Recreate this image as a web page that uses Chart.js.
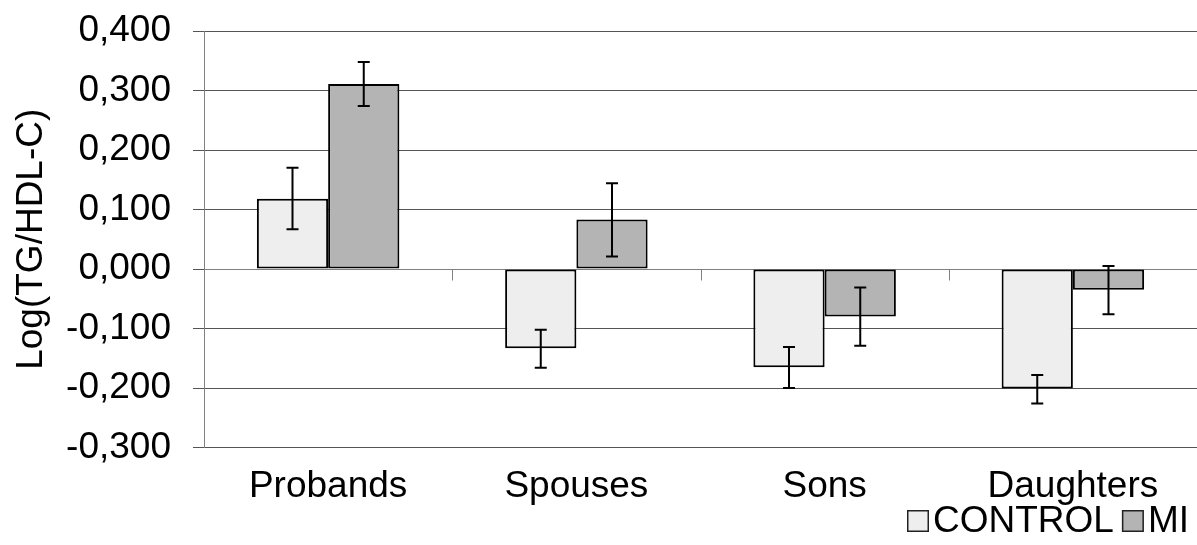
<!DOCTYPE html>
<html>
<head>
<meta charset="utf-8">
<script src="https://cdn.jsdelivr.net/npm/chart.js@4.4.0/dist/chart.umd.min.js"></script>
<style>
  html, body { margin: 0; padding: 0; background: #fff; }
  #wrap { width: 1197px; height: 545px; }
</style>
</head>
<body>
<div id="wrap"><canvas id="grafico"></canvas></div>
<script>
// Dados
const categorias = ["Probands", "Spouses", "Sons", "Daughters"];
const controle = [0.118, -0.133, -0.165, -0.201];
const controleMin = [0.067, -0.166, -0.200, -0.226];
const controleMax = [0.170, -0.102, -0.131, -0.178];
const mi = [0.311, 0.083, -0.080, -0.035];
const miMin = [0.274, 0.021, -0.129, -0.076];
const miMax = [0.348, 0.144, -0.031, 0.005];
const yTicks = [-0.3, -0.2, -0.1, 0, 0.1, 0.2, 0.3, 0.4];

const fonte = "'Liberation Sans', Arial, sans-serif";
Chart.defaults.font.family = fonte;
Chart.defaults.color = "#000";

// barras de erro desenhadas pela escala y
const errorBars = {
  id: "errorBars",
  afterDatasetsDraw(chart) {
    const ctx = chart.ctx;
    const y = chart.scales.y;
    chart.data.datasets.forEach((ds, di) => {
      const meta = chart.getDatasetMeta(di);
      meta.data.forEach((bar, i) => {
        const top = y.getPixelForValue(ds.errMax[i]);
        const bot = y.getPixelForValue(ds.errMin[i]);
        ctx.save();
        ctx.strokeStyle = "#000";
        ctx.lineWidth = 2;
        ctx.beginPath();
        ctx.moveTo(bar.x, top); ctx.lineTo(bar.x, bot);
        ctx.moveTo(bar.x - 6, top); ctx.lineTo(bar.x + 6, top);
        ctx.moveTo(bar.x - 6, bot); ctx.lineTo(bar.x + 6, bot);
        ctx.stroke();
        ctx.restore();
      });
    });
  }
};

// eixo x no zero com marcas entre as categorias
const eixoZero = {
  id: "eixoZero",
  beforeDatasetsDraw(chart) {
    const ctx = chart.ctx;
    const x = chart.scales.x;
    const y0 = Math.round(chart.scales.y.getPixelForValue(0)) + 0.5;
    const passo = x.width / categorias.length;
    ctx.save();
    ctx.strokeStyle = "#808080";
    ctx.lineWidth = 1;
    ctx.beginPath();
    ctx.moveTo(x.left, y0); ctx.lineTo(x.right, y0);
    for (let i = 1; i < categorias.length; i++) {
      const px = Math.round(x.getPixelForValue(i) - passo / 2) + 0.5;
      ctx.moveTo(px, y0); ctx.lineTo(px, y0 + 11);
    }
    ctx.stroke();
    ctx.restore();
  }
};

// legenda no canto inferior direito
const legenda = {
  id: "legenda",
  afterDraw(chart) {
    const ctx = chart.ctx;
    ctx.save();
    ctx.font = "37px " + fonte;
    ctx.textBaseline = "middle";
    const box = 22, gapTexto = 4, gapItem = 8;
    const itens = chart.data.datasets.map(ds => ({ label: ds.label, cor: ds.backgroundColor }));
    let total = 0;
    itens.forEach((it, i) => {
      it.w = ctx.measureText(it.label).width;
      total += box + gapTexto + it.w + (i > 0 ? gapItem : 0);
    });
    let px = 1189 - total;
    const cy = 522;
    itens.forEach((it, i) => {
      if (i > 0) px += gapItem;
      ctx.fillStyle = it.cor;
      ctx.fillRect(px, 510, box, box);
      ctx.strokeStyle = "#222";
      ctx.lineWidth = 1.5;
      ctx.strokeRect(px + 0.75, 510.75, box - 1.5, box - 1.5);
      px += box + gapTexto;
      ctx.fillStyle = "#000";
      ctx.fillText(it.label, px, cy);
      px += it.w;
    });
    ctx.restore();
  }
};

new Chart(document.getElementById("grafico"), {
  type: "bar",
  data: {
    labels: categorias,
    datasets: [
      {
        label: "CONTROL",
        data: controle,
        errMin: controleMin,
        errMax: controleMax,
        backgroundColor: "#eeeeee",
        borderColor: "#000",
        borderWidth: 2,
        borderSkipped: false
      },
      {
        label: "MI",
        data: mi,
        errMin: miMin,
        errMax: miMax,
        backgroundColor: "#b4b4b4",
        borderColor: "#000",
        borderWidth: 2,
        borderSkipped: false
      }
    ]
  },
  options: {
    responsive: true,
    maintainAspectRatio: false,
    animation: false,
    layout: { padding: { top: 31, right: 0, bottom: 37.5, left: 0 } },
    datasets: { bar: { categoryPercentage: 0.574, barPercentage: 1 } },
    plugins: {
      legend: { display: false },
      tooltip: { enabled: false }
    },
    scales: {
      x: {
        afterFit(scale) {
          scale.height = 60;
          scale.paddingLeft = 0;
          scale.paddingRight = 0;
        },
        grid: { display: false },
        border: { display: false },
        ticks: { font: { size: 37 }, padding: 9, maxRotation: 0 }
      },
      y: {
        min: -0.3,
        max: 0.4,
        afterFit(scale) {
          scale.width = 204;
          scale.paddingTop = 0;
          scale.paddingBottom = 0;
        },
        afterBuildTicks(scale) { scale.ticks = yTicks.map(v => ({ value: v })); },
        grid: { color: "#555", lineWidth: 1, tickLength: 11 },
        border: { display: true, color: "#808080", width: 1 },
        ticks: {
          font: { size: 37 },
          padding: 22,
          callback: v => v.toFixed(3).replace(".", ",")
        },
        title: {
          display: true,
          text: "Log(TG/HDL-C)",
          font: { size: 37 },
          padding: { top: 10, bottom: 0 }
        }
      }
    }
  },
  plugins: [eixoZero, errorBars, legenda]
});
</script>
</body>
</html>
